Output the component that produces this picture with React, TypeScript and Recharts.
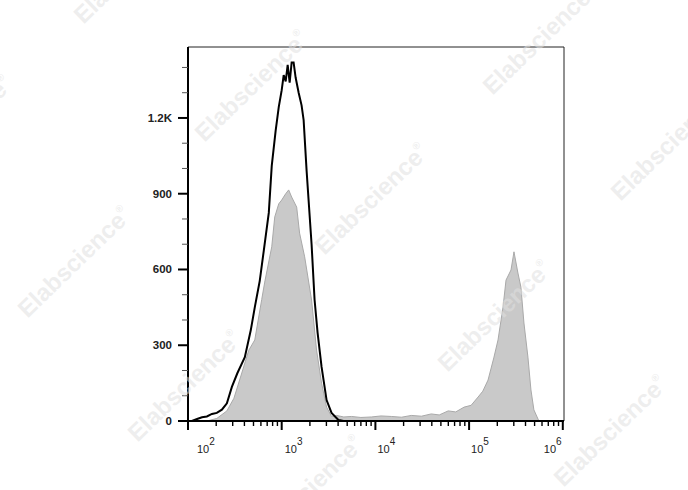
import React from "react";
import { ComposedChart, Area, Line, XAxis, YAxis, ReferenceArea } from "recharts";

// fluorescence intensity (x) and event counts (y)
const blackX = [
  110, 125, 141, 159, 180, 203, 230, 260, 294, 337, 404, 468, 516, 583, 644, 728, 783, 862, 930,
  1000, 1050, 1103, 1158, 1216, 1277, 1340, 1408, 1517, 1630, 1714, 1845, 1936, 2084, 2243, 2415,
  2664, 3013, 3404, 4036, 4570,
];
const blackY = [
  0, 8, 15, 18, 28, 32, 45, 70, 135, 190, 253, 360, 450, 555, 675, 824, 1010, 1150, 1243,
  1310, 1370, 1345, 1410, 1340, 1420, 1420, 1360, 1300, 1250, 1192, 990, 875, 700, 480, 350,
  214, 83, 32, 4, 0,
];

const grayX = [
  159, 203, 260, 309, 375, 445, 516, 612, 659, 783, 843, 930, 1000, 1103, 1187, 1277, 1445, 1552,
  1758, 2084, 2355, 2664, 3013, 3404, 3845, 4600, 5560, 7000, 9060, 11500, 14790, 19000, 24150,
  31000, 39440, 48000, 59840, 72000, 88500, 105000, 124800, 140000, 159300, 184400, 203600,
  230200, 247800, 280100, 301300, 332000, 357400, 384900, 424500, 457100, 491600, 555900,
];
const grayY = [
  0, 10, 40, 90, 190, 280, 321, 481, 550, 690, 808, 860, 875, 900, 915, 887, 847, 744,
  650, 479, 281, 150, 55, 18, 22, 16, 18, 14, 16, 20, 18, 15, 22,
  19, 28, 24, 40, 36, 55, 62, 95, 118, 162, 253, 321,
  451, 558, 598, 670, 586, 530, 388, 253, 123, 44, 0,
];

const xMajor = [1e2, 1e3, 1e4, 1e5, 1e6];
const xMinorSteps = [2, 3, 4, 5, 6, 7, 8, 9];
const xLabelPow = ["2", "3", "4", "5", "6"];
const yTicks = [0, 100, 200, 300, 400, 500, 600, 700, 800, 900, 1000, 1100, 1200, 1300, 1400];
const yLabels: Record<number, string> = { 0: "0", 300: "300", 600: "600", 900: "900", 1200: "1.2K" };

const X_MIN = 100;
const X_MAX = 1.03e6;
const Y_MAX = 1481;

const blackData = blackX.map((x, i) => ({ x, c: blackY[i] }));
const grayData = grayX.map((x, i) => ({ x, c: grayY[i] }));
const xTicks = [
  ...xMajor,
  ...xMajor.slice(0, 4).flatMap((d) => xMinorSteps.map((s) => s * d)),
].sort((a, b) => a - b);

const FONT = "'Liberation Sans', Arial, sans-serif";
const labelDx = [9, 3, 2, 2, -19];

const XTick = (props: any) => {
  const { x, y, payload } = props;
  const idx = xMajor.indexOf(payload.value);
  const major = idx >= 0;
  return (
    <g>
      <line x1={x} x2={x} y1={y} y2={y + (major ? 9 : 5)} stroke="#000" strokeWidth={major ? 2 : 1.4} />
      {major && (
        <text x={x + labelDx[idx]} y={453} fontSize={11} fontFamily={FONT} fill="#222">
          10
          <tspan fontSize={10} dy={-8}>
            {xLabelPow[idx]}
          </tspan>
        </text>
      )}
    </g>
  );
};

const YTick = (props: any) => {
  const { x, y, payload } = props;
  const label = yLabels[payload.value];
  const major = label !== undefined;
  return (
    <g>
      <line
        x1={major ? x - 10 : x - 6}
        x2={x}
        y1={y}
        y2={y}
        stroke={major ? "#000" : "#555"}
        strokeWidth={major ? 2 : 1}
      />
      {major && (
        <text x={x - 16} y={y + 4} textAnchor="end" fontSize={11.5} fontWeight={600} fontFamily={FONT} fill="#222">
          {label}
        </text>
      )}
    </g>
  );
};

const marks = [
  [257, 92],
  [377, 205],
  [545, 45],
  [673, 151],
  [80, 268],
  [500, 322],
  [190, 392],
  [312, 497],
  [616, 437],
  [136, -26],
  [-39, 137],
];

const Watermarks = () => (
  <svg
    width={688}
    height={490}
    style={{ position: "absolute", left: 0, top: 0, pointerEvents: "none" }}
  >
    {marks.map(([cx, cy], i) => (
      <text
        key={i}
        transform={`translate(${cx},${cy}) rotate(-44)`}
        textAnchor="middle"
        fontSize={24}
        fontWeight="bold"
        fontFamily={FONT}
        fill="#e0e0e0"
        fillOpacity={0.55}
      >
        Elabscience
        <tspan fontSize={10} dy={-12}>
          ®
        </tspan>
      </text>
    ))}
  </svg>
);

export default function App() {
  return (
    <div style={{ position: "absolute", left: 0, top: 0, width: 688, height: 490, background: "#fff" }}>
      <ComposedChart width={688} height={490} margin={{ top: 47, right: 124, bottom: 0, left: 0 }}>
        <XAxis
          dataKey="x"
          type="number"
          scale="log"
          domain={[X_MIN, X_MAX]}
          allowDataOverflow
          ticks={xTicks}
          interval={0}
          tick={<XTick />}
          tickLine={false}
          tickSize={0}
          tickMargin={0}
          height={69}
          axisLine={{ stroke: "#000", strokeWidth: 2 }}
        />
        <YAxis
          type="number"
          domain={[0, Y_MAX]}
          ticks={yTicks}
          interval={0}
          tick={<YTick />}
          tickLine={false}
          tickSize={0}
          tickMargin={0}
          width={188}
          axisLine={{ stroke: "#000", strokeWidth: 2 }}
        />
        <ReferenceArea
          x1={X_MIN}
          x2={X_MAX}
          y1={0}
          y2={Y_MAX}
          fill="none"
          fillOpacity={0}
          stroke="#222"
          strokeWidth={1}
          ifOverflow="visible"
        />
        <Area
          data={grayData}
          dataKey="c"
          type="linear"
          stroke="#a9a9a9"
          strokeWidth={1}
          fill="#c9c9c9"
          fillOpacity={1}
          isAnimationActive={false}
          dot={false}
          activeDot={false}
        />
        <Line
          data={blackData}
          dataKey="c"
          type="linear"
          stroke="#000"
          strokeWidth={2}
          dot={false}
          activeDot={false}
          isAnimationActive={false}
        />
      </ComposedChart>
      <Watermarks />
    </div>
  );
}
